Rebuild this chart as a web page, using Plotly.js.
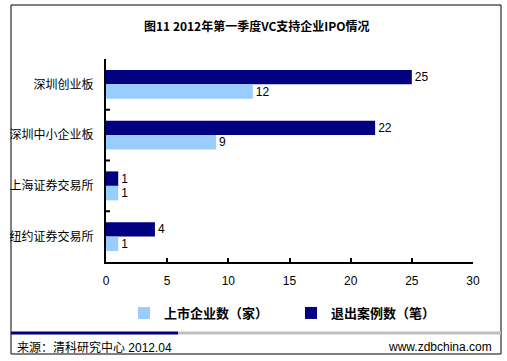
<!DOCTYPE html>
<html><head><meta charset="utf-8">
<script src="https://cdn.plot.ly/plotly-3.0.1.min.js"></script>
<style>html,body{margin:0;padding:0;background:#fff;}#chart{width:507px;height:361px;}</style>
</head><body><div id="chart"></div>
<script>
const categories = ["深圳创业板", "深圳中小企业板", "上海证券交易所", "纽约证券交易所"];
const listedCompanies = [12, 9, 1, 1];
const exitCases = [25, 22, 1, 4];
const seriesNames = ["上市企业数（家）", "退出案例数（笔）"];
const xTicks = [0, 5, 10, 15, 20, 25, 30];

const W = 507, H = 361;
const px = v => v / W, py = v => 1 - v / H;
const cjk = "Arial, 'Liberation Sans', 'Noto Sans CJK SC', sans-serif";

const traces = [
  {type: "bar", orientation: "h", name: seriesNames[1], y: categories, x: exitCases,
   marker: {color: "#000080"}, text: exitCases.map(String), textposition: "outside",
   textfont: {family: cjk, size: 12, color: "#000"}, cliponaxis: false, legendrank: 2},
  {type: "bar", orientation: "h", name: seriesNames[0], y: categories, x: listedCompanies,
   marker: {color: "#99CCFF"}, text: listedCompanies.map(String), textposition: "outside",
   textfont: {family: cjk, size: 12, color: "#000"}, cliponaxis: false, legendrank: 1}
];

const layout = {
  width: W, height: H, margin: {l: 0, r: 0, t: 0, b: 0},
  paper_bgcolor: "#fff", plot_bgcolor: "#fff",
  barmode: "group", bargap: 0.43, bargroupgap: 0,
  showlegend: true,
  legend: {orientation: "h", x: px(124), xanchor: "left", y: py(313), yanchor: "middle",
    font: {family: "'Noto Sans CJK SC', sans-serif", size: 13, color: "#000", weight: "bold"},
    itemwidth: 30, entrywidth: 122, entrywidthmode: "pixels", traceorder: "normal"},
  xaxis: {domain: [px(106), px(473)], range: [0, 30], tickvals: xTicks, ticktext: xTicks.map(String),
    showgrid: false, zeroline: false, showline: true, linecolor: "#000", linewidth: 2,
    ticks: "inside", ticklen: 4, tickcolor: "#000", tickwidth: 2, ticklabelstandoff: 7,
    tickfont: {family: cjk, size: 12, color: "#000"}, fixedrange: true},
  yaxis: {domain: [py(262), py(59)], type: "category", autorange: "reversed",
    showgrid: false, zeroline: false, showline: true, linecolor: "#000", linewidth: 2,
    ticks: "", tickfont: {family: cjk, size: 12, color: "#000"}, ticklabelstandoff: 8, fixedrange: true},
  shapes: [
    {type: "rect", xref: "paper", yref: "paper", x0: px(11), x1: px(501), y0: py(354), y1: py(5),
     line: {color: "#000", width: 1}},
    {type: "line", xref: "paper", yref: "paper", x0: px(178), x1: px(501), y0: py(333), y1: py(333),
     line: {color: "#c0c0c0", width: 3}},
    {type: "line", xref: "paper", yref: "paper", x0: px(11), x1: px(178), y0: py(333), y1: py(333),
     line: {color: "#000080", width: 3}}
  ].concat([0.5, 1.5, 2.5].map(v => ({type: "line", xref: "paper", yref: "y",
     x0: px(106), x1: px(110), y0: v, y1: v, line: {color: "#000", width: 2}}))),
  annotations: [
    {text: "<b>图11 2012年第一季度VC支持企业IPO情况</b>", xref: "paper", yref: "paper",
     x: px(257), y: py(25), xanchor: "center", yanchor: "middle", showarrow: false,
     font: {family: "'Noto Sans CJK SC', sans-serif", size: 12, color: "#000"}},
    {text: "来源：清科研究中心 2012.04", xref: "paper", yref: "paper",
     x: px(15), y: py(347), xanchor: "left", yanchor: "middle", showarrow: false,
     font: {family: cjk, size: 12, color: "#000"}},
    {text: "www.zdbchina.com", xref: "paper", yref: "paper",
     x: px(494), y: py(347), xanchor: "right", yanchor: "middle", showarrow: false,
     font: {family: cjk, size: 12, color: "#000"}}
  ]
};

Plotly.newPlot("chart", traces, layout, {displayModeBar: false, staticPlot: true});
</script></body></html>
